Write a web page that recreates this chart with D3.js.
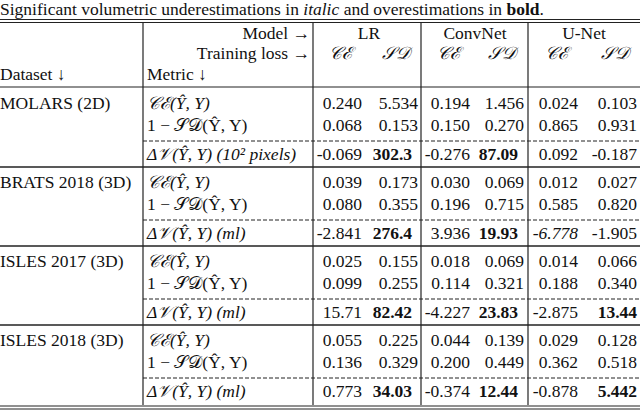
<!DOCTYPE html>
<html>
<head>
<meta charset="utf-8">
<script src="https://cdn.jsdelivr.net/npm/d3@7"></script>
<style>
body { margin: 0; background: #fff; }
text { font-family: "Liberation Serif", "DejaVu Serif", serif; font-size: 17.5px; fill: #111; }
</style>
</head>
<body>
<svg id="chart" width="640" height="411"></svg>
<script>
// Table data
var caption = ['Significant volumetric underestimations in ', 'italic', ' and overestimations in ', 'bold', '.'];
var models = ['LR', 'ConvNet', 'U-Net'];
var losses = ['\u{1D49E}\u2130', '\u{1D4AE}\u{1D49F}'];
var datasets = ['MOLARS (2D)', 'BRATS 2018 (3D)', 'ISLES 2017 (3D)', 'ISLES 2018 (3D)'];
var metricCE = '\u{1D49E}\u2130(\u0176, Y)';
var metricSD = '1 \u2212 \u{1D4AE}\u{1D49F}(\u0176, Y)';
var metricDV = ['(10\u00B2 pixels)', '(ml)', '(ml)', '(ml)'];

// values per dataset: [LR CE, LR SD, ConvNet CE, ConvNet SD, U-Net CE, U-Net SD]
var ceValues = [
    ['0.240', '5.534', '0.194', '1.456', '0.024', '0.103'],
    ['0.039', '0.173', '0.030', '0.069', '0.012', '0.027'],
    ['0.025', '0.155', '0.018', '0.069', '0.014', '0.066'],
    ['0.055', '0.225', '0.044', '0.139', '0.029', '0.128']
];
var sdValues = [
    ['0.068', '0.153', '0.150', '0.270', '0.865', '0.931'],
    ['0.080', '0.355', '0.196', '0.715', '0.585', '0.820'],
    ['0.099', '0.255', '0.114', '0.321', '0.188', '0.340'],
    ['0.136', '0.329', '0.200', '0.449', '0.362', '0.518']
];
var dvValues = [
    ['-0.069', '302.3', '-0.276', '87.09', '0.092', '-0.187'],
    ['-2.841', '276.4', '3.936', '19.93', '-6.778', '-1.905'],
    ['15.71', '82.42', '-4.227', '23.83', '-2.875', '13.44'],
    ['0.773', '34.03', '-0.374', '12.44', '-0.878', '5.442']
];
// significance: b = overestimation (bold), i = underestimation (italic)
var dvSignif = [
    ['', 'b', '', 'b', '', ''],
    ['', 'b', '', 'b', 'i', ''],
    ['', 'b', '', 'b', '', 'b'],
    ['', 'b', '', 'b', '', 'b']
];

var svg = d3.select('#chart');

// Scales
var yGroup = d3.scaleLinear().domain([0, 3]).range([103, 340]);
var colRight = d3.scaleOrdinal().domain(d3.range(6)).range([362, 418, 470, 524, 578, 637]);
var dvRight = d3.scaleOrdinal().domain(d3.range(6)).range([362, 412, 470, 518, 578, 637]);
var modelCenter = d3.scaleOrdinal().domain(models).range([369, 475, 584]);
var vLines = [143, 313, 421, 528];

function line(x1, y1, x2, y2, w, dash) {
    svg.append('line').attr('x1', x1).attr('y1', y1).attr('x2', x2).attr('y2', y2)
        .attr('stroke', '#222').attr('stroke-width', w || 1)
        .attr('stroke-dasharray', dash || null);
}
function txt(x, y, s, anchor) {
    return svg.append('text').attr('x', x).attr('y', y).attr('dy', '0.35em')
        .attr('text-anchor', anchor || 'start').text(s);
}

// Caption
var cap = svg.append('text').attr('x', 0).attr('y', 9).attr('dy', '0.35em');
caption.forEach(function(part) {
    var t = cap.append('tspan').text(part);
    if (part === 'italic') t.style('font-style', 'italic');
    if (part === 'bold') t.style('font-weight', 'bold');
});

// Rules
line(0, 19.5, 640, 19.5, 1.2);
line(0, 22.5, 640, 22.5, 1.2);
line(0, 87, 640, 87, 1.2);
line(0, 406, 640, 406, 1.2);
line(0, 409, 640, 409, 1.2);
vLines.forEach(function(x) { line(x, 23, x, 405, 1.2); });

// Header
txt(310, 33, 'Model \u2192', 'end');
txt(310, 53, 'Training loss \u2192', 'end');
txt(0, 74, 'Dataset \u2193');
txt(147, 74, 'Metric \u2193');
models.forEach(function(m, i) {
    txt(modelCenter(m), 33, m, 'middle');
    losses.forEach(function(l, j) {
        txt(colRight(i * 2 + j) - 22, 53, l, 'middle').style('font-style', 'italic');
    });
});

// Body
datasets.forEach(function(d, g) {
    var y0 = yGroup(g);
    txt(0, y0, d);
    txt(147, y0, metricCE).style('font-style', 'italic');
    txt(147, y0 + 22, metricSD);
    var dv = txt(147, y0 + 51, '');
    dv.append('tspan').style('font-style', 'italic').text('\u0394\u{1D4B1}(\u0176, Y) ');
    dv.append('tspan').style('font-style', 'italic').text(metricDV[g]);
    line(143, y0 + 38, 640, y0 + 38, 1, '4,2');
    if (g < 3) line(0, y0 + 64, 640, y0 + 64, 1.6);

    ceValues[g].forEach(function(v, c) { txt(colRight(c), y0, v, 'end'); });
    sdValues[g].forEach(function(v, c) { txt(colRight(c), y0 + 22, v, 'end'); });
    dvValues[g].forEach(function(v, c) {
        var t = txt(dvRight(c), y0 + 51, v, 'end');
        if (dvSignif[g][c] === 'b') t.style('font-weight', 'bold');
        if (dvSignif[g][c] === 'i') t.style('font-style', 'italic');
    });
});
</script>
</body>
</html>
